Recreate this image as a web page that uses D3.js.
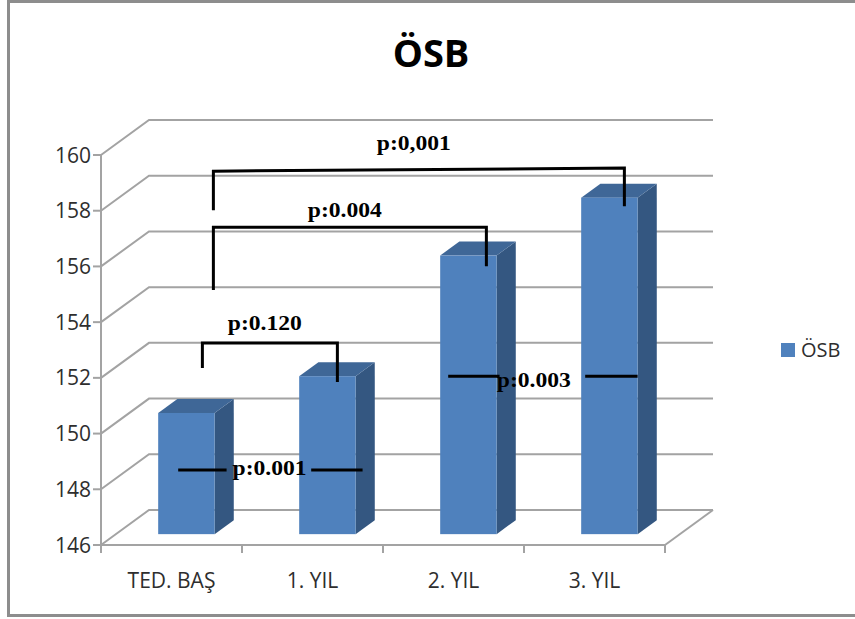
<!DOCTYPE html>
<html>
<head>
<meta charset="utf-8">
<script src="https://cdn.jsdelivr.net/npm/d3@7"></script>
<style>
  html, body { margin: 0; padding: 0; background: #fff; }
  svg { display: block; }
</style>
</head>
<body>
<svg id="chart" width="855" height="619"></svg>
<script>
// ---- data ----
const categories = ["TED. BAŞ", "1. YIL", "2. YIL", "3. YIL"];
const values = [150.35, 151.67, 156.0, 158.08];
const yTicks = [146, 148, 150, 152, 154, 156, 158, 160];
const seriesName = "ÖSB";
const chartTitle = "ÖSB";

// comparison brackets: pair of categories, bracket height and leg ends (axis units)
const bracketPairs = [[0, 1], [0, 2], [0, 3]];
const bracketLevels = [[152.86, 152.86], [157.02, 157.02], [159.03, 159.14]];
const bracketLegEnds = [[151.96, 151.46], [154.76, 155.62], [157.63, 157.77]];
const bracketLabels = ["p:0.120", "p:0.004", "p:0,001"];

// horizontal marker lines with p-values between two bars
const markerPairs = [[0, 1], [2, 3]];
const markerLevels = [148.30, 151.67];
const markerLabels = ["p:0.001", "p:0.003"];

// ---- layout ----
const svg = d3.select("#chart");
const front = { left: 101, right: 665, top: 155, bottom: 545 };
const DEPTH = { dx: 48, dy: -35 };          // full floor depth offset
const barD0 = 0.31, barD1 = 0.71;           // bar front/back depth fractions
const gridColor = "#a3a3a3";
const textColor = "#2e2e2e";
const labelFont = "'Open Sans', sans-serif";

const y = d3.scaleLinear().domain([146, 160]).range([front.bottom, front.top]);
const x = d3.scaleBand().domain(categories)
  .range([front.left, front.right]).paddingInner(0.6).paddingOuter(0.3);
const bw = x.bandwidth();
const step = x.step();

// point at a given depth fraction
const P = (px, py, d) => [px + DEPTH.dx * d, py + DEPTH.dy * d];
const barLeft = i => x(categories[i]) + DEPTH.dx * barD0;
const yBar = v => y(v) + DEPTH.dy * barD0;

// frame
svg.append("path")
  .attr("d", "M 870 1.5 L 8.5 1.5 L 8.5 615.5 L 870 615.5")
  .attr("fill", "none").attr("stroke", "#8d8d8d").attr("stroke-width", 3);

// title
svg.append("text")
  .attr("x", 431).attr("y", 67)
  .attr("text-anchor", "middle")
  .attr("font-family", labelFont)
  .attr("font-weight", "bold").attr("font-size", 38)
  .attr("fill", "#000").text(chartTitle);

// back wall gridlines + side wall diagonals
const grid = svg.append("g").attr("stroke", gridColor).attr("stroke-width", 2).attr("fill", "none");
yTicks.forEach(t => {
  const a = [front.left, y(t)];
  const b = P(front.left, y(t), 1);
  const c = P(front.right, y(t), 1);
  grid.append("path").attr("d", d3.line()([a, b, c]));
});
// floor right edge
grid.append("path").attr("d", d3.line()([[front.right, y(146)], P(front.right, y(146), 1)]));

// value axis
const axisG = svg.append("g");
axisG.append("line")
  .attr("x1", front.left).attr("x2", front.left)
  .attr("y1", y(160)).attr("y2", y(146))
  .attr("stroke", gridColor).attr("stroke-width", 2);
axisG.selectAll("line.tick").data(yTicks).join("line")
  .attr("class", "tick")
  .attr("x1", front.left - 8).attr("x2", front.left)
  .attr("y1", d => y(d)).attr("y2", d => y(d))
  .attr("stroke", gridColor).attr("stroke-width", 2);
axisG.selectAll("text").data(yTicks).join("text")
  .attr("x", front.left - 10).attr("y", d => y(d))
  .attr("dy", "0.36em")
  .attr("text-anchor", "end")
  .attr("font-family", labelFont).attr("font-size", 21)
  .attr("fill", textColor)
  .text(d => d);

// category axis
const catG = svg.append("g");
catG.append("line")
  .attr("x1", front.left).attr("x2", front.right)
  .attr("y1", y(146)).attr("y2", y(146))
  .attr("stroke", gridColor).attr("stroke-width", 2);
const boundaries = d3.range(categories.length + 1).map(i => front.left + i * step);
catG.selectAll("line.tick").data(boundaries).join("line")
  .attr("class", "tick")
  .attr("x1", d => d).attr("x2", d => d)
  .attr("y1", y(146)).attr("y2", y(146) + 8)
  .attr("stroke", gridColor).attr("stroke-width", 2);
catG.selectAll("text").data(categories).join("text")
  .attr("x", d => x(d) + bw / 2).attr("y", 588)
  .attr("text-anchor", "middle")
  .attr("font-family", labelFont).attr("font-size", 21)
  .attr("fill", textColor)
  .text(d => d);

// 3D bars
const depthX = DEPTH.dx * (barD1 - barD0);
const depthY = DEPTH.dy * (barD1 - barD0);
const bars = svg.append("g").selectAll("g").data(values).join("g");
bars.append("path") // side
  .attr("fill", "#345781")
  .attr("d", (v, i) => {
    const x1 = barLeft(i) + bw, yt = yBar(v), yb = yBar(146);
    return d3.line()([[x1, yt], [x1 + depthX, yt + depthY], [x1 + depthX, yb + depthY], [x1, yb]]) + "Z";
  });
bars.append("path") // top
  .attr("fill", "#3f6797")
  .attr("d", (v, i) => {
    const x0 = barLeft(i), yt = yBar(v);
    return d3.line()([[x0, yt], [x0 + bw, yt], [x0 + bw + depthX, yt + depthY], [x0 + depthX, yt + depthY]]) + "Z";
  });
bars.append("rect") // front
  .attr("x", (v, i) => barLeft(i))
  .attr("y", v => yBar(v))
  .attr("width", bw)
  .attr("height", v => yBar(146) - yBar(v))
  .attr("fill", "#4f81bd");

// annotation styling
const annoFont = "'Liberation Serif', 'Times New Roman', serif";
const stretch = 1.18;
function pLabel(g, cx, cy, txt) {
  return g.append("text")
    .attr("transform", `translate(${cx},${cy}) scale(${stretch},1)`)
    .attr("text-anchor", "middle")
    .attr("font-family", annoFont).attr("font-weight", "bold").attr("font-size", 20)
    .attr("fill", "#000").text(txt);
}

// brackets (leg offsets from bar front-face centre, px)
const bracketLegShift = [[16, 10], [27, 18], [27, 15]];
const bracketLabelGap = [13, 10, 18];
const annoG = svg.append("g");
bracketPairs.forEach((pair, k) => {
  const [a, b] = pair;
  const xa = barLeft(a) + bw / 2 + bracketLegShift[k][0];
  const xb = barLeft(b) + bw / 2 + bracketLegShift[k][1];
  const la = yBar(bracketLevels[k][0]), lb = yBar(bracketLevels[k][1]);
  annoG.append("path")
    .attr("d", d3.line()([[xa, yBar(bracketLegEnds[k][0])], [xa, la], [xb, lb], [xb, yBar(bracketLegEnds[k][1])]]))
    .attr("fill", "none").attr("stroke", "#000").attr("stroke-width", 3);
  pLabel(annoG, (xa + xb) / 2 - 5, Math.min(la, lb) - bracketLabelGap[k], bracketLabels[k]);
});

// marker lines: offsets relative to bar edges, label centre as fraction of the gap
const markerLayout = [
  { s0: 20, e0: 12, s1: 12, e1: 7, t: 0.65, dy: 5 },
  { s0: 8, e0: 3, s1: 4, e1: 0, t: 0.44, dy: 11 }
];
markerPairs.forEach((pair, k) => {
  const [a, b] = pair;
  const L = markerLayout[k];
  const ly = yBar(markerLevels[k]);
  const aR = barLeft(a) + bw, bL = barLeft(b);
  annoG.append("line")
    .attr("x1", barLeft(a) + L.s0).attr("x2", aR + L.e0)
    .attr("y1", ly).attr("y2", ly)
    .attr("stroke", "#000").attr("stroke-width", 3);
  annoG.append("line")
    .attr("x1", bL + L.s1).attr("x2", bL + bw + L.e1)
    .attr("y1", ly).attr("y2", ly)
    .attr("stroke", "#000").attr("stroke-width", 3);
  pLabel(annoG, aR + L.t * (bL - aR), ly + L.dy, markerLabels[k]);
});

// legend
const leg = svg.append("g").attr("transform", "translate(781,343)");
leg.append("rect").attr("width", 14).attr("height", 14).attr("fill", "#4f81bd");
leg.append("text")
  .attr("x", 20).attr("y", 7).attr("dy", "0.36em")
  .attr("font-family", labelFont).attr("font-size", 20)
  .attr("fill", textColor).text(seriesName);
</script>
</body>
</html>
